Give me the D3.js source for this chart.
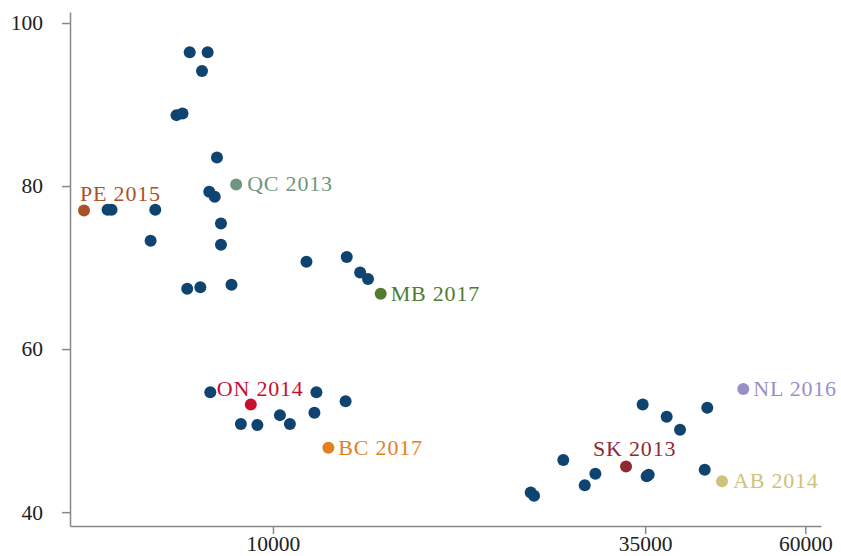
<!DOCTYPE html>
<html>
<head>
<meta charset="utf-8">
<script src="https://cdn.jsdelivr.net/npm/d3@7"></script>
<style>
  body { margin: 0; background: #fff; }
  #chart text { font-family: "Palatino Linotype", "Book Antiqua", Palatino, "Liberation Serif", serif; }
</style>
</head>
<body>
<div id="chart"></div>
<script>
// other jurisdictions (unlabelled dots)
var otherX = [7556, 8026, 7875, 7228, 7375, 8282, 8070, 8220, 5731, 5808,
              6729, 6624, 8394, 8394, 7493, 7831, 8697, 11193, 12820, 13410,
              13770, 8098, 11574, 12770, 8976, 9488, 10237, 10586, 11497, 34710,
              43140, 37630, 39360, 26570, 29600, 28560, 35180, 35420, 42770, 23810,
              24080];
var otherY = [96.4, 96.4, 94.1, 88.7, 88.9, 83.5, 79.3, 78.7, 77.1, 77.1,
              77.1, 73.3, 75.4, 72.8, 67.4, 67.6, 67.9, 70.7, 71.3, 69.4,
              68.6, 54.7, 54.7, 53.6, 50.8, 50.7, 51.9, 50.8, 52.2, 53.2,
              52.8, 51.7, 50.1, 46.4, 44.7, 43.3, 44.4, 44.6, 45.2, 42.4,
              42.0];

// labelled provinces
var provLabels = ["PE 2015", "QC 2013", "MB 2017", "ON 2014", "BC 2017", "SK 2013", "NL 2016", "AB 2014"];
var provX = [5294, 8835, 14370, 9281, 12050, 32820, 48700, 45330];
var provY = [77.0, 80.2, 66.8, 53.2, 47.9, 45.6, 55.1, 43.8];

var xTicks = [10000, 35000, 60000];
var yTicks = [40, 60, 80, 100];

// styles
var provColors = ["#a9522a", "#6e9680", "#517b2f", "#c8102e", "#e2811f", "#8f2a33", "#9a90c8", "#cdc37b"];
var labelOffsets = [[-4, -10], [11, 7], [10, 7], [-34, -9],
                    [10, 7], [-33, -10], [10, 7], [11, 7]];
var dotColor = "#0f4470";

var margin = {top: 12, right: 20, bottom: 30, left: 70},
    width = 841 - margin.left - margin.right,
    height = 556 - margin.top - margin.bottom;

var svg = d3.select("#chart")
  .append("svg")
    .attr("width", width + margin.left + margin.right)
    .attr("height", height + margin.top + margin.bottom)
  .append("g")
    .attr("transform", "translate(" + margin.left + "," + margin.top + ")");

var x = d3.scaleLog()
    .domain([5050, 63260])
    .range([0, width]);

var y = d3.scaleLinear()
    .domain([38.3, 101.35])
    .range([height, 0]);

var xAxis = svg.append("g")
    .attr("transform", "translate(0," + height + ")")
    .call(d3.axisBottom(x).tickValues(xTicks).tickFormat(d3.format("d")).tickSize(8).tickSizeOuter(0).tickPadding(2));

var yAxis = svg.append("g")
    .call(d3.axisLeft(y).tickValues(yTicks).tickSize(8).tickSizeOuter(0).tickPadding(19));

[xAxis, yAxis].forEach(function(a) {
  a.select(".domain").attr("stroke", "#888").attr("stroke-width", 1.5);
  a.selectAll(".tick line").attr("stroke", "#888").attr("stroke-width", 1.5);
  a.selectAll(".tick text").attr("fill", "#222").style("font-size", "21.5px");
});

// unlabelled dots
var others = otherX.map(function(v, i) { return {x: v, y: otherY[i]}; });
svg.selectAll("circle.other")
  .data(others)
  .enter().append("circle")
    .attr("class", "other")
    .attr("cx", function(d) { return x(d.x); })
    .attr("cy", function(d) { return y(d.y); })
    .attr("r", 6)
    .style("fill", dotColor);

// labelled provinces
var provs = provLabels.map(function(l, i) {
  return {label: l, x: provX[i], y: provY[i], color: provColors[i], off: labelOffsets[i]};
});

svg.selectAll("circle.prov")
  .data(provs)
  .enter().append("circle")
    .attr("class", "prov")
    .attr("cx", function(d) { return x(d.x); })
    .attr("cy", function(d) { return y(d.y); })
    .attr("r", 6)
    .style("fill", function(d) { return d.color; });

svg.selectAll("text.prov")
  .data(provs)
  .enter().append("text")
    .attr("class", "prov")
    .attr("x", function(d) { return x(d.x) + d.off[0]; })
    .attr("y", function(d) { return y(d.y) + d.off[1]; })
    .style("fill", function(d) { return d.color; })
    .style("font-size", "22px")
    .style("letter-spacing", "0.8px")
    .text(function(d) { return d.label; });
</script>
</body>
</html>
